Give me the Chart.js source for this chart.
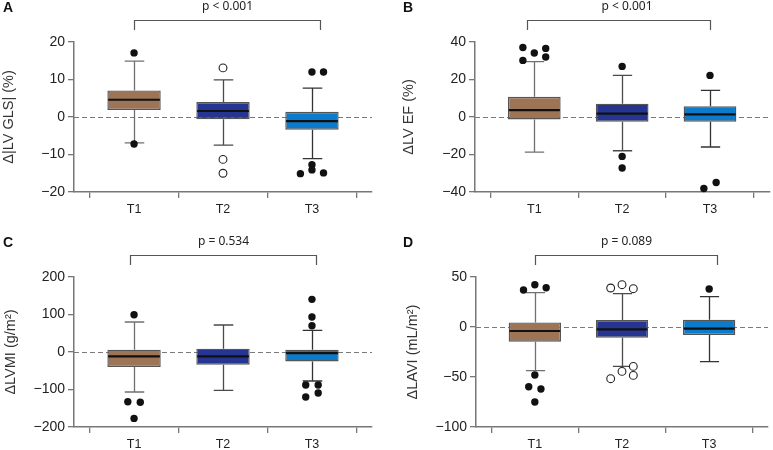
<!DOCTYPE html>
<html>
<head>
<meta charset="utf-8">
<script src="https://cdn.jsdelivr.net/npm/chart.js@4.4.1/dist/chart.umd.min.js"></script>
<style>
  html,body{margin:0;padding:0;background:#fff;}
  #wrap{position:relative;width:773px;height:450px;overflow:hidden;}
  .p{position:absolute;}
</style>
</head>
<body>
<div id="wrap">
  <div class="p" style="left:0;top:0;width:386px;height:225px;"><canvas id="cA"></canvas></div>
  <div class="p" style="left:390px;top:0;width:383px;height:225px;"><canvas id="cB"></canvas></div>
  <div class="p" style="left:0;top:225px;width:386px;height:225px;"><canvas id="cC"></canvas></div>
  <div class="p" style="left:390px;top:225px;width:383px;height:225px;"><canvas id="cD"></canvas></div>
</div>
<script>
// ---------- DATA ----------
const categories = ['T1', 'T2', 'T3'];

// Panel A: Δ|LV GLS| (%)
const glsQ1  = [1.9, -0.6, -3.4];
const glsMed = [4.6, 1.6, -1.1];
const glsQ3  = [7.1, 4.0, 1.4];
const glsLo  = [-6.9, -7.5, -11.1];
const glsHi  = [14.9, 9.9, 7.7];
const glsOutFilled = [{x:1,y:17.1},{x:1,y:-7.2},{x:3,y:12},{x:3.13,y:12},{x:3,y:-12.7},{x:3,y:-14.1},{x:2.87,y:-15.1},{x:3.13,y:-14.9}];
const glsOutOpen   = [{x:2,y:13.1},{x:2,y:-11.3},{x:2,y:-15.0}];

// Panel B: ΔLV EF (%)
const efQ1  = [-1.3, -2.5, -2.5];
const efMed = [3.7, 1.8, 1.4];
const efQ3  = [10.8, 7.1, 5.7];
const efLo  = [-18.7, -18.0, -16.0];
const efHi  = [29.5, 22.2, 14.2];
const efOutFilled = [{x:0.87,y:37.1},{x:1,y:34.1},{x:1.13,y:36.6},{x:0.87,y:30.2},{x:1.13,y:32.0},
                     {x:2,y:27.0},{x:2,y:-21.0},{x:2,y:-27.2},
                     {x:3,y:22.2},{x:3.07,y:-34.9},{x:2.93,y:-38.1}];
const efOutOpen = [];

// Panel C: ΔLVMI (g/m²)
const lvmiQ1  = [-40, -33.8, -25];
const lvmiMed = [-11.6, -11.6, -2.8];
const lvmiQ3  = [6.1, 8.9, 6.2];
const lvmiLo  = [-106.7, -102.2, -77.3];
const lvmiHi  = [80, 72, 57.7];
const lvmiOutFilled = [{x:1,y:99.5},{x:0.93,y:-132.5},{x:1.07,y:-134},{x:1,y:-177},
                       {x:3,y:140.4},{x:3,y:93.4},{x:3,y:70.2},{x:2.93,y:-88},{x:3.07,y:-88},{x:2.93,y:-120},{x:3.07,y:-109.3}];
const lvmiOutOpen = [];

// Panel D: ΔLAVI (mL/m²)
const laviQ1  = [-14.7, -10.7, -8];
const laviMed = [-4.0, -2.4, -1.7];
const laviQ3  = [4.6, 7, 7.3];
const laviLo  = [-43.7, -39.4, -34.7];
const laviHi  = [34.3, 33.3, 30.3];
const laviOutFilled = [{x:0.87,y:37},{x:1,y:42.3},{x:1.13,y:39.3},{x:1,y:-48},{x:0.93,y:-59.7},{x:1.07,y:-62},{x:1,y:-75},
                       {x:3,y:38}];
const laviOutOpen = [{x:1.87,y:39},{x:2,y:42.3},{x:2.13,y:38.3},{x:2.13,y:-39.4},{x:2,y:-44.4},{x:2.13,y:-48.4},{x:1.87,y:-51.7}];

// y-axis tick settings
const yTicksA = {min:-20, max:20, step:10};
const yTicksB = {min:-40, max:40, step:20};
const yTicksC = {min:-200, max:200, step:100};
const yTicksD = {min:-100, max:50, step:50};

// ---------- STYLE ----------
const boxColors = ['#9D7556', '#263592', '#0B7BCB'];
const whiskerColors = ['#707070', '#4a4a4a', '#333333'];
const FONT = '"Liberation Sans", Arial, sans-serif';

const boxPlugin = {
  id: 'boxExtras',
  beforeDatasetsDraw(chart, args, o) {
    const {ctx, chartArea: a, scales: {x, y}} = chart;
    ctx.save();
    ctx.setLineDash([5, 3]);
    ctx.strokeStyle = '#7a7a7a';
    ctx.lineWidth = 1.2;
    const y0 = Math.round(y.getPixelForValue(0)) + 0.5;
    ctx.beginPath(); ctx.moveTo(a.left, y0); ctx.lineTo(a.right, y0); ctx.stroke();
    ctx.setLineDash([]);
    o.med.forEach((m, i) => {
      const px = Math.round(x.getPixelForValue(i + 1)) + 0.5;
      const cw = x.getPixelForValue(i + 1.11) - x.getPixelForValue(i + 1);
      ctx.strokeStyle = whiskerColors[i];
      ctx.lineWidth = 1.3;
      const yq3 = y.getPixelForValue(o.q3[i]), yhi = y.getPixelForValue(o.hi[i]);
      const yq1 = y.getPixelForValue(o.q1[i]), ylo = y.getPixelForValue(o.lo[i]);
      ctx.beginPath();
      ctx.moveTo(px, yq3); ctx.lineTo(px, yhi);
      ctx.moveTo(px - cw, yhi); ctx.lineTo(px + cw, yhi);
      ctx.moveTo(px, yq1); ctx.lineTo(px, ylo);
      ctx.moveTo(px - cw, ylo); ctx.lineTo(px + cw, ylo);
      ctx.stroke();
    });
    ctx.restore();
  },
  afterDatasetsDraw(chart, args, o) {
    const {ctx, scales: {y}} = chart;
    const meta = chart.getDatasetMeta(chart.data.datasets.length - 1);
    ctx.save();
    ctx.strokeStyle = '#111';
    ctx.lineWidth = 2.2;
    meta.data.forEach((el, i) => {
      const ym = y.getPixelForValue(o.med[i]);
      ctx.beginPath();
      ctx.moveTo(el.x - el.width / 2 + 0.8, ym);
      ctx.lineTo(el.x + el.width / 2 - 0.8, ym);
      ctx.stroke();
    });
    ctx.restore();
  },
  afterDraw(chart, args, o) {
    const {ctx, chartArea: a, scales: {x}} = chart;
    ctx.save();
    const xa = Math.round(x.getPixelForValue(o.bracket[0])) + 0.5;
    const xb = Math.round(x.getPixelForValue(o.bracket[1])) + 0.5;
    const yb = Math.round(a.top - 22) + 0.5, yt = a.top - 12;
    ctx.strokeStyle = '#555';
    ctx.lineWidth = 1.2;
    ctx.beginPath();
    ctx.moveTo(xa, yt); ctx.lineTo(xa, yb); ctx.lineTo(xb, yb); ctx.lineTo(xb, yt);
    ctx.stroke();
    ctx.fillStyle = '#222';
    ctx.font = '12px "Noto Sans", sans-serif';
    ctx.textAlign = 'center';
    ctx.textBaseline = 'middle';
    ctx.fillText(o.pText, (xa + xb) / 2 + (o.pShift || 0), a.top - 35);
    ctx.font = 'bold 14px ' + FONT;
    ctx.textAlign = 'left';
    ctx.fillStyle = '#111';
    ctx.fillText(o.letter, o.letterX, a.top - 34);
    ctx.restore();
  }
};

function makeChart(id, cfg) {
  const datasets = [];
  datasets.push({
    type: 'scatter', data: cfg.outFilled, order: 1, clip: false,
    pointRadius: 3.7, pointHoverRadius: 3.7, pointBackgroundColor: '#111', pointBorderColor: '#111', pointBorderWidth: 0
  });
  datasets.push({
    type: 'scatter', data: cfg.outOpen, order: 1, clip: false,
    pointRadius: 3.9, pointHoverRadius: 3.9, pointBackgroundColor: '#fff', pointBorderColor: '#222', pointBorderWidth: 1.1
  });
  datasets.push({
    type: 'bar', order: 2,
    data: categories.map((c, i) => ({x: i + 1, y: [cfg.q1[i], cfg.q3[i]]})),
    backgroundColor: boxColors, borderColor: '#555', borderWidth: 1.4, borderSkipped: false,
    barPercentage: 0.6, categoryPercentage: 1, grouped: false
  });
  return new Chart(document.getElementById(id), {
    type: 'bar',
    data: {datasets},
    options: {
      responsive: true, maintainAspectRatio: false, animation: false,
      layout: {padding: {left: 0, right: cfg.padRight, top: cfg.padTop, bottom: 0}},
      plugins: {
        legend: {display: false}, tooltip: {enabled: false},
        boxExtras: {q1: cfg.q1, q3: cfg.q3, med: cfg.med, lo: cfg.lo, hi: cfg.hi,
                    bracket: cfg.bracket, pText: cfg.pText, pShift: cfg.pShift, letter: cfg.letter, letterX: cfg.letterX}
      },
      scales: {
        x: {
          type: 'linear', min: 0.325, max: 3.675, offset: false,
          afterBuildTicks: s => { s.ticks = categories.map((c, i) => ({value: i + 1})); },
          afterFit: s => { s.height = cfg.xHeight; },
          ticks: {callback: v => categories[v - 1] || '', color: '#222', font: {family: FONT, size: 12.5}, padding: 4, maxRotation: 0, autoSkip: false},
          grid: {drawOnChartArea: false, drawTicks: true, tickLength: 6, color: '#777', lineWidth: 1.3},
          border: {display: true, color: '#777', width: 1.5}
        },
        y: {
          type: 'linear', min: cfg.yt.min, max: cfg.yt.max,
          afterFit: s => { s.width = cfg.yWidth; },
          ticks: {stepSize: cfg.yt.step, color: '#222', font: {family: FONT, size: 14}, padding: 3,
                  callback: v => String(v).replace('-', '\u2212')},
          grid: {drawOnChartArea: false, drawTicks: true, tickLength: 6, color: '#777', lineWidth: 1.3},
          border: {display: true, color: '#777', width: 1.5},
          title: {display: true, text: cfg.yTitle, color: '#333', font: {family: FONT, size: 14.5, lineHeight: 1.2},
                  padding: {top: cfg.titlePad, bottom: 0}}
        }
      }
    },
    plugins: [boxPlugin]
  });
}

makeChart('cA', {q1: glsQ1, med: glsMed, q3: glsQ3, lo: glsLo, hi: glsHi, outFilled: glsOutFilled, outOpen: glsOutOpen,
  yt: yTicksA, yTitle: '\u0394|LV GLS| (%)', yWidth: 74, padRight: 14, padTop: 42, xHeight: 33, titlePad: 0,
  bracket: [1, 3.085], pText: 'p < 0.001', letter: 'A', letterX: 3});
makeChart('cB', {q1: efQ1, med: efMed, q3: efQ3, lo: efLo, hi: efHi, outFilled: efOutFilled, outOpen: efOutOpen,
  yt: yTicksB, yTitle: '\u0394LV EF (%)', yWidth: 85, padRight: 1, padTop: 42, xHeight: 33, titlePad: 10,
  bracket: [0.92, 3.0], pText: 'p < 0.001', pShift: 8, letter: 'B', letterX: 13});
makeChart('cC', {q1: lvmiQ1, med: lvmiMed, q3: lvmiQ3, lo: lvmiLo, hi: lvmiHi, outFilled: lvmiOutFilled, outOpen: lvmiOutOpen,
  yt: yTicksC, yTitle: '\u0394LVMI (g/m\u00B2)', yWidth: 74, padRight: 14, padTop: 52, xHeight: 23, titlePad: 2,
  bracket: [0.95, 3.04], pText: 'p = 0.534', letter: 'C', letterX: 3});
makeChart('cD', {q1: laviQ1, med: laviMed, q3: laviQ3, lo: laviLo, hi: laviHi, outFilled: laviOutFilled, outOpen: laviOutOpen,
  yt: yTicksD, yTitle: '\u0394LAVI (mL/m\u00B2)', yWidth: 86, padRight: 1, padTop: 52, xHeight: 23, titlePad: 14,
  bracket: [1, 3.085], pText: 'p = 0.089', letter: 'D', letterX: 13});
</script>
</body>
</html>
